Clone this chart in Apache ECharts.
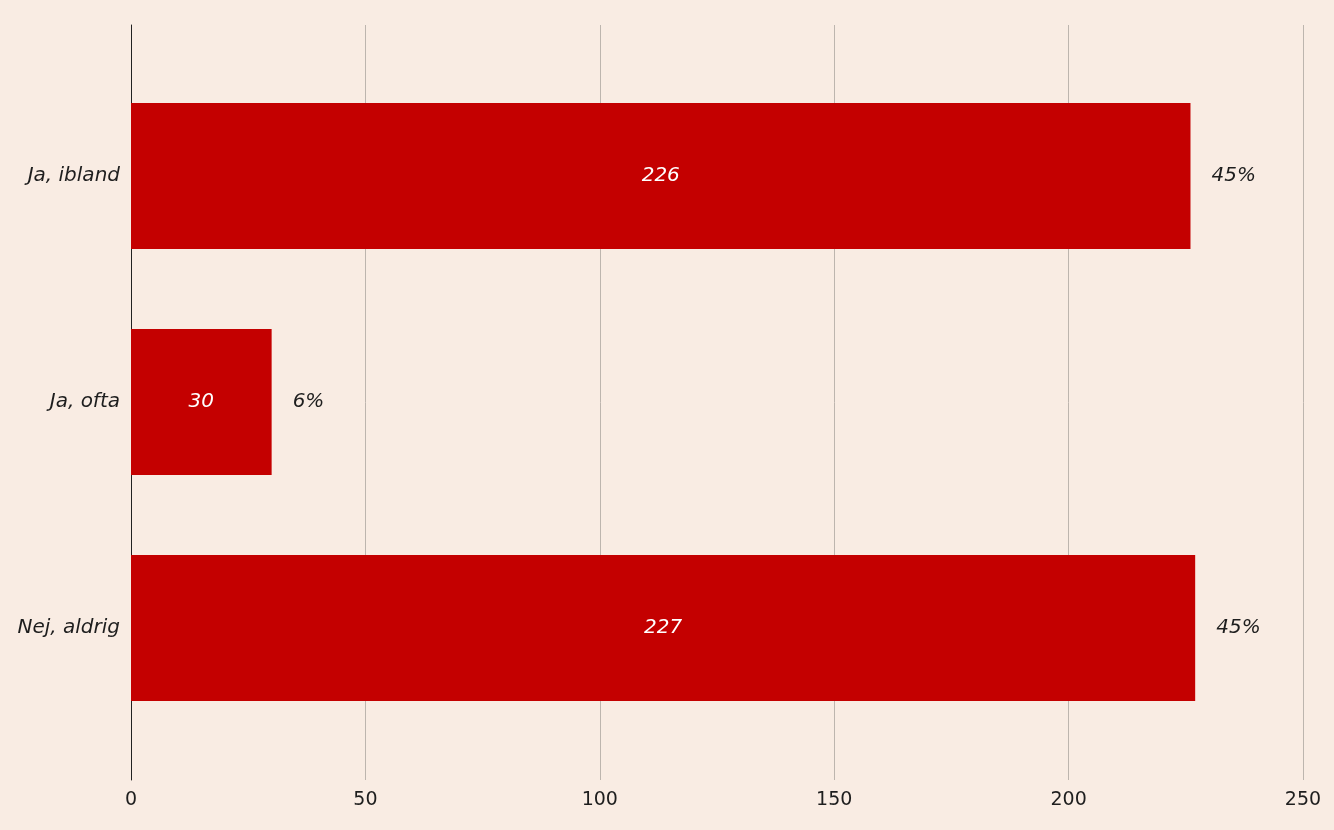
<!DOCTYPE html>
<html><head><meta charset="utf-8">
<script src="https://cdn.jsdelivr.net/npm/echarts@6/dist/echarts.min.js"></script>
<style>html,body{margin:0;padding:0;background:#f9ece3;}#c{width:1334px;height:830px;}</style>
</head><body><div id="c"></div>
<script>
const categories = ['Ja, ibland', 'Ja, ofta', 'Nej, aldrig'];
const counts = [226, 30, 227];
const percents = ['45%', '6%', '45%'];
const xTicks = { min: 0, max: 250, interval: 50 };

const FONT = '"DejaVu Sans", Verdana, sans-serif';
const chart = echarts.init(document.getElementById('c'), null, { renderer: 'canvas' });
chart.setOption({
  backgroundColor: '#f9ece3',
  animation: false,
  grid: [
    { left: 131, right: 31, top: 25, bottom: 50 },
    { left: 131, right: 31, top: 63, bottom: 89 }
  ],
  xAxis: [
    { gridIndex: 0, type: 'value', min: xTicks.min, max: xTicks.max, interval: xTicks.interval,
      axisLine: { show: false }, axisTick: { show: false },
      splitLine: { show: true, lineStyle: { color: '#bdb5ae', width: 1 } },
      axisLabel: { color: '#1e1e1e', fontFamily: FONT, fontSize: 19, margin: 11 } },
    { gridIndex: 1, type: 'value', min: xTicks.min, max: xTicks.max, interval: xTicks.interval, show: false }
  ],
  yAxis: [
    { gridIndex: 0, type: 'category', data: [''], axisLine: { show: true, lineStyle: { color: '#222', width: 1 } },
      axisTick: { show: false }, axisLabel: { show: false }, splitLine: { show: false } },
    { gridIndex: 1, type: 'category', data: categories, inverse: true,
      axisLine: { show: false }, axisTick: { show: false },
      axisLabel: { color: '#1e1e1e', fontFamily: FONT, fontSize: 20, fontStyle: 'italic', margin: 11 } }
  ],
  series: [
    { type: 'bar', xAxisIndex: 1, yAxisIndex: 1, data: counts, barCategoryGap: '35.4%',
      itemStyle: { color: '#c40000' },
      label: { show: true, position: 'inside', color: '#fff', fontFamily: FONT, fontSize: 20, fontStyle: 'italic' } },
    { type: 'bar', xAxisIndex: 1, yAxisIndex: 1, data: counts, barGap: '-100%', barCategoryGap: '35.4%',
      itemStyle: { color: 'rgba(0,0,0,0)' }, silent: true,
      label: { show: true, position: 'right', distance: 21, color: '#1e1e1e', fontFamily: FONT, fontSize: 20, fontStyle: 'italic',
        formatter: p => percents[p.dataIndex] } }
  ]
});
</script></body></html>
